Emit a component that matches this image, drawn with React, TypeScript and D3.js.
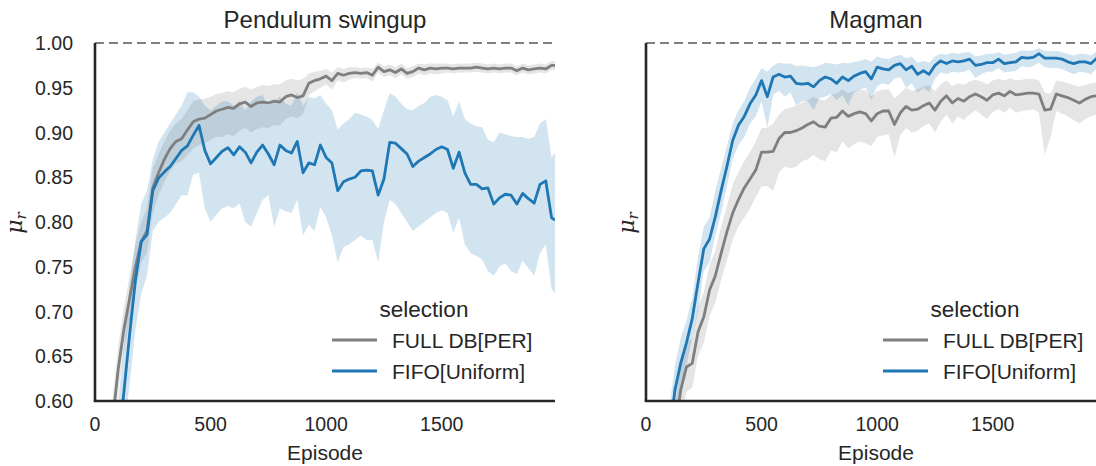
import React from "react";
import * as d3 from "d3";

// ---------- data ----------
const EPISODES = [
  0, 25, 50, 75, 100, 125, 150, 175, 200, 225, 250, 275, 300, 325, 350, 375, 400, 425, 450, 475,
  500, 525, 550, 575, 600, 625, 650, 675, 700, 725, 750, 775, 800, 825, 850, 875, 900, 925, 950, 975,
  1000, 1025, 1050, 1075, 1100, 1125, 1150, 1175, 1200, 1225, 1250, 1275, 1300, 1325, 1350, 1375, 1400, 1425, 1450, 1475,
  1500, 1525, 1550, 1575, 1600, 1625, 1650, 1675, 1700, 1725, 1750, 1775, 1800, 1825, 1850, 1875, 1900, 1925, 1950, 1975,
  1990,
];

// Pendulum swingup — FULL DB[PER]
const PEND_FULL_MEAN = [
  0.45, 0.49, 0.53, 0.575, 0.635, 0.68, 0.715, 0.75, 0.778, 0.79, 0.838, 0.855, 0.87, 0.882, 0.89, 0.893, 0.903, 0.912, 0.915, 0.916,
  0.92, 0.924, 0.926, 0.928, 0.927, 0.932, 0.934, 0.929, 0.933, 0.934, 0.933, 0.935, 0.934, 0.94, 0.942, 0.939, 0.941, 0.955, 0.958, 0.96,
  0.963, 0.958, 0.966, 0.964, 0.966, 0.967, 0.966, 0.967, 0.964, 0.973, 0.968, 0.97, 0.967, 0.971, 0.966, 0.968, 0.972, 0.97, 0.972, 0.971,
  0.972, 0.972, 0.971, 0.972, 0.972, 0.972, 0.973, 0.972, 0.971, 0.972, 0.971, 0.972, 0.972, 0.969, 0.972, 0.97, 0.971, 0.972, 0.971, 0.975,
  0.975,
];
const PEND_FULL_LO = [
  0.42, 0.46, 0.5, 0.55, 0.61, 0.655, 0.69, 0.725, 0.755, 0.765, 0.81, 0.83, 0.845, 0.857, 0.865, 0.868, 0.875, 0.882, 0.886, 0.888,
  0.892, 0.895, 0.895, 0.898, 0.896, 0.902, 0.905, 0.9, 0.904, 0.906, 0.905, 0.908, 0.908, 0.915, 0.918, 0.916, 0.92, 0.942, 0.946, 0.95,
  0.954, 0.948, 0.958, 0.956, 0.959, 0.961, 0.96, 0.961, 0.957, 0.967, 0.962, 0.964, 0.961, 0.965, 0.96, 0.962, 0.966, 0.964, 0.966, 0.965,
  0.966, 0.967, 0.966, 0.967, 0.967, 0.967, 0.968, 0.967, 0.966, 0.967, 0.966, 0.967, 0.967, 0.964, 0.967, 0.965, 0.966, 0.967, 0.966, 0.97,
  0.97,
];
const PEND_FULL_HI = [
  0.48, 0.52, 0.56, 0.6, 0.66, 0.705, 0.74, 0.775, 0.8, 0.815, 0.86, 0.876, 0.89, 0.902, 0.91, 0.915, 0.925, 0.935, 0.937, 0.938,
  0.94, 0.943, 0.944, 0.946, 0.945, 0.949, 0.951, 0.948, 0.951, 0.953, 0.952, 0.954, 0.954, 0.958, 0.96, 0.958, 0.96, 0.966, 0.968, 0.969,
  0.971, 0.967, 0.973, 0.971, 0.973, 0.973, 0.972, 0.973, 0.971, 0.978, 0.974, 0.976, 0.973, 0.977, 0.972, 0.974, 0.977, 0.976, 0.977, 0.977,
  0.977, 0.977, 0.976, 0.977, 0.977, 0.977, 0.978, 0.977, 0.976, 0.977, 0.976, 0.977, 0.977, 0.974, 0.977, 0.975, 0.976, 0.977, 0.976, 0.98,
  0.98,
];

// Pendulum swingup — FIFO[Uniform]
const PEND_FIFO_MEAN = [
  0.38, 0.42, 0.46, 0.5, 0.55, 0.61, 0.675, 0.735, 0.778, 0.786, 0.835, 0.849, 0.856, 0.862, 0.871, 0.88, 0.885, 0.897, 0.908, 0.88,
  0.865, 0.872, 0.879, 0.883, 0.875, 0.884, 0.878, 0.866, 0.878, 0.886, 0.876, 0.864, 0.886, 0.88, 0.877, 0.89, 0.855, 0.866, 0.864, 0.886,
  0.872, 0.866, 0.835, 0.845, 0.848, 0.85, 0.857, 0.858, 0.857, 0.83, 0.848, 0.889, 0.888, 0.882, 0.876, 0.862, 0.868, 0.872, 0.876, 0.881,
  0.884, 0.881, 0.86, 0.878, 0.855, 0.842, 0.842, 0.837, 0.838, 0.82, 0.827, 0.831, 0.83, 0.82, 0.832, 0.826, 0.821, 0.842, 0.846, 0.805,
  0.802,
];
const PEND_FIFO_LO = [
  0.34, 0.37, 0.41, 0.45, 0.5, 0.56, 0.62, 0.68, 0.72, 0.74, 0.79, 0.8, 0.805, 0.81, 0.82, 0.83, 0.83, 0.853, 0.855, 0.815,
  0.8, 0.808, 0.815, 0.818, 0.815, 0.821, 0.8, 0.795, 0.81, 0.825, 0.83, 0.795, 0.815, 0.812, 0.81, 0.825, 0.785, 0.797, 0.79, 0.817,
  0.805, 0.785, 0.755, 0.772, 0.775, 0.78, 0.785, 0.78, 0.78, 0.755, 0.8, 0.825, 0.82, 0.81, 0.8, 0.79, 0.795, 0.8, 0.805, 0.81,
  0.813, 0.81, 0.788, 0.805, 0.775, 0.765, 0.762, 0.758, 0.745, 0.74, 0.75, 0.754, 0.745, 0.742, 0.757, 0.748, 0.74, 0.765, 0.775, 0.725,
  0.72,
];
const PEND_FIFO_HI = [
  0.42, 0.47, 0.51, 0.55, 0.6, 0.66, 0.73, 0.78, 0.82, 0.835, 0.87, 0.89, 0.9, 0.91, 0.92, 0.93, 0.945, 0.945, 0.94, 0.93,
  0.925, 0.93, 0.935, 0.935, 0.93, 0.935, 0.925, 0.935, 0.94, 0.942, 0.93, 0.935, 0.94, 0.932, 0.93, 0.945, 0.93, 0.94, 0.938, 0.942,
  0.932, 0.925, 0.903, 0.91, 0.915, 0.922, 0.92, 0.918, 0.914, 0.904, 0.925, 0.944, 0.94, 0.932, 0.926, 0.925, 0.93, 0.933, 0.94, 0.942,
  0.94, 0.936, 0.918, 0.935, 0.915, 0.91, 0.907, 0.906, 0.892, 0.889, 0.9, 0.898, 0.896, 0.895, 0.895, 0.893, 0.895, 0.91, 0.915, 0.872,
  0.877,
];

// Magman — FULL DB[PER]
const MAG_FULL_MEAN = [
  0.25, 0.31, 0.37, 0.43, 0.5, 0.565, 0.612, 0.638, 0.642, 0.677, 0.694, 0.724, 0.74, 0.765, 0.789, 0.81, 0.825, 0.838, 0.848, 0.858,
  0.878, 0.878, 0.879, 0.893, 0.9, 0.9, 0.902, 0.905, 0.909, 0.912, 0.907, 0.906, 0.916, 0.917, 0.924, 0.918, 0.921, 0.923, 0.921, 0.913,
  0.921, 0.924, 0.924, 0.909, 0.922, 0.929, 0.925, 0.926, 0.93, 0.933, 0.925, 0.935, 0.941, 0.933, 0.938, 0.935, 0.94, 0.943, 0.94, 0.936,
  0.942, 0.944, 0.941, 0.946, 0.942, 0.943, 0.944, 0.944, 0.943, 0.925, 0.926, 0.943, 0.941, 0.939, 0.936, 0.933, 0.937, 0.94, 0.941, 0.941,
  0.94,
];
const MAG_FULL_LO = [
  0.22, 0.28, 0.34, 0.4, 0.47, 0.535, 0.58, 0.61, 0.615, 0.65, 0.665, 0.695, 0.71, 0.735, 0.757, 0.78, 0.795, 0.805, 0.815, 0.828,
  0.84, 0.84, 0.835, 0.855, 0.862, 0.86, 0.862, 0.868, 0.87, 0.875, 0.87, 0.868, 0.88, 0.878, 0.89, 0.882, 0.887, 0.89, 0.888, 0.885,
  0.895, 0.897, 0.898, 0.872, 0.897, 0.905, 0.9, 0.902, 0.907, 0.91, 0.9, 0.912, 0.92, 0.91, 0.918, 0.914, 0.92, 0.925, 0.92, 0.915,
  0.923, 0.926, 0.922, 0.928, 0.922, 0.924, 0.925, 0.926, 0.922, 0.875, 0.895, 0.924, 0.921, 0.918, 0.914, 0.91, 0.915, 0.918, 0.92, 0.92,
  0.919,
];
const MAG_FULL_HI = [
  0.28, 0.34, 0.4, 0.46, 0.53, 0.595, 0.64, 0.665, 0.67, 0.705, 0.722, 0.752, 0.768, 0.795, 0.818, 0.842, 0.856, 0.868, 0.878, 0.89,
  0.905, 0.905, 0.91, 0.92, 0.926, 0.928, 0.93, 0.933, 0.936, 0.94, 0.937, 0.936, 0.942, 0.944, 0.948, 0.944, 0.946, 0.948, 0.947, 0.94,
  0.946, 0.948, 0.948, 0.938, 0.944, 0.95, 0.947, 0.948, 0.951, 0.953, 0.946, 0.954, 0.958, 0.952, 0.955, 0.953, 0.957, 0.959, 0.957, 0.954,
  0.958, 0.96, 0.958, 0.961, 0.958, 0.959, 0.96, 0.96, 0.958, 0.945, 0.943, 0.958, 0.957, 0.955, 0.953, 0.951, 0.953, 0.955, 0.956, 0.956,
  0.955,
];

// Magman — FIFO[Uniform]
const MAG_FIFO_MEAN = [
  0.3, 0.36, 0.42, 0.48, 0.56, 0.612, 0.642, 0.665, 0.692, 0.732, 0.77, 0.781, 0.806, 0.835, 0.862, 0.891, 0.908, 0.918, 0.932, 0.942,
  0.958, 0.94, 0.962, 0.965, 0.962, 0.963, 0.955, 0.954, 0.955, 0.951, 0.958, 0.962, 0.96, 0.955, 0.962, 0.958, 0.963, 0.966, 0.968, 0.96,
  0.973, 0.971, 0.97, 0.975, 0.977, 0.97, 0.974, 0.965, 0.969, 0.965, 0.975, 0.98, 0.977, 0.98, 0.979, 0.98, 0.982, 0.975, 0.976, 0.978,
  0.978, 0.982, 0.977, 0.978, 0.979, 0.984, 0.983, 0.984, 0.988, 0.983, 0.983, 0.983, 0.982, 0.979, 0.977, 0.979, 0.979, 0.977, 0.983, 0.982,
  0.98,
];
const MAG_FIFO_LO = [
  0.27, 0.33, 0.39, 0.45, 0.53, 0.58, 0.615, 0.64, 0.67, 0.7, 0.745, 0.755, 0.785, 0.81, 0.84, 0.87, 0.886, 0.895, 0.91, 0.918,
  0.935, 0.905, 0.942, 0.947, 0.94, 0.945, 0.93, 0.935, 0.935, 0.925, 0.938, 0.94, 0.943, 0.936, 0.942, 0.93, 0.945, 0.948, 0.95, 0.936,
  0.952, 0.955, 0.953, 0.96, 0.962, 0.95, 0.955, 0.944, 0.95, 0.945, 0.96, 0.967, 0.965, 0.968, 0.967, 0.968, 0.97, 0.961, 0.965, 0.968,
  0.968, 0.972, 0.967, 0.968, 0.969, 0.974, 0.973, 0.974, 0.978, 0.973, 0.972, 0.972, 0.971, 0.968, 0.965, 0.968, 0.967, 0.965, 0.972, 0.971,
  0.97,
];
const MAG_FIFO_HI = [
  0.33, 0.39, 0.45, 0.51, 0.59, 0.64, 0.67, 0.69, 0.715, 0.76, 0.795, 0.805, 0.835, 0.86, 0.885, 0.91, 0.925, 0.935, 0.95, 0.96,
  0.972, 0.968, 0.975, 0.978, 0.977, 0.977, 0.974, 0.975, 0.974, 0.973, 0.975, 0.978, 0.977, 0.976, 0.978, 0.977, 0.979, 0.98, 0.982, 0.979,
  0.985, 0.983, 0.982, 0.985, 0.987, 0.983, 0.985, 0.978, 0.98, 0.978, 0.985, 0.988, 0.987, 0.989, 0.988, 0.989, 0.99, 0.985, 0.986, 0.988,
  0.988, 0.99, 0.987, 0.988, 0.989, 0.992, 0.991, 0.992, 0.994, 0.991, 0.991, 0.991, 0.99, 0.988, 0.986, 0.988, 0.988, 0.986, 0.991, 0.99,
  0.99,
];

const X_TICKS = [0, 500, 1000, 1500];
const Y_TICKS = [0.6, 0.65, 0.7, 0.75, 0.8, 0.85, 0.9, 0.95, 1.0];
const TITLES = ["Pendulum swingup", "Magman"];
const SERIES_NAMES = ["FULL DB[PER]", "FIFO[Uniform]"];
const LEGEND_TITLE = "selection";
const X_LABEL = "Episode";

// ---------- style ----------
const GRAY = "#7f7f7f";
const BLUE = "#1f77b4";
const INK = "#262626";
const FONT = "'Liberation Sans', Arial, sans-serif";
const TOP = 43;
const BOTTOM = 401;
const PANEL_W = 460;

type Band = { mean: number[]; lo: number[]; hi: number[]; color: string };

function Panel(props: {
  id: string;
  x0: number;
  title: string;
  series: Band[];
  showY: boolean;
  ylabelX: number;
}) {
  const { id, x0, title, series, showY, ylabelX } = props;
  const x = d3.scaleLinear().domain([0, 1990]).range([x0, x0 + PANEL_W]);
  const y = d3.scaleLinear().domain([0.6, 1.0]).range([BOTTOM, TOP]);
  const line = d3
    .line<number>()
    .x((_, i) => x(EPISODES[i]))
    .y((d) => y(d));
  const areaPath = (lo: number[], hi: number[]) =>
    d3
      .area<number>()
      .x((_, i) => x(EPISODES[i]))
      .y0((_, i) => y(lo[i]))
      .y1((_, i) => y(hi[i]))(lo) || "";
  const cx = x0 + PANEL_W / 2;

  return (
    <g>
      <defs>
        <clipPath id={id}>
          <rect x={x0} y={TOP} width={PANEL_W} height={BOTTOM - TOP} />
        </clipPath>
      </defs>
      <g clipPath={`url(#${id})`}>
        {series.map((s, k) => (
          <path key={"a" + k} d={areaPath(s.lo, s.hi)} fill={s.color} fillOpacity={0.2} stroke="none" />
        ))}
        {series.map((s, k) => (
          <path
            key={"l" + k}
            d={line(s.mean) || ""}
            fill="none"
            stroke={s.color}
            strokeWidth={2.8}
            strokeLinejoin="round"
          />
        ))}
      </g>
      <line
        x1={x0}
        x2={x0 + PANEL_W}
        y1={y(1.0)}
        y2={y(1.0)}
        stroke="#808080"
        strokeWidth={2.2}
        strokeDasharray="9 5"
      />
      {/* spines */}
      <line x1={x0} x2={x0} y1={TOP} y2={BOTTOM} stroke={INK} strokeWidth={2.6} />
      <line x1={x0 - 1.3} x2={x0 + PANEL_W} y1={BOTTOM} y2={BOTTOM} stroke={INK} strokeWidth={2.6} />
      {/* ticks */}
      {showY &&
        Y_TICKS.map((t) => (
          <text
            key={"y" + t}
            x={x0 - 22}
            y={y(t)}
            dy="0.36em"
            textAnchor="end"
            fontSize={19.5}
            fill={INK}
          >
            {d3.format(".2f")(t)}
          </text>
        ))}
      {X_TICKS.map((t) => (
        <text key={"x" + t} x={x(t)} y={431} textAnchor="middle" fontSize={19.5} fill={INK}>
          {t}
        </text>
      ))}
      <text x={cx} y={28} textAnchor="middle" fontSize={24} fill={INK}>
        {title}
      </text>
      <text x={cx} y={460} textAnchor="middle" fontSize={21} fill={INK}>
        {X_LABEL}
      </text>
      <text
        transform={`translate(${ylabelX},223) rotate(-90)`}
        textAnchor="middle"
        fontSize={22}
        fill={INK}
        fontFamily="'DejaVu Serif', 'Liberation Serif', serif"
        fontStyle="italic"
      >
        <tspan>μ</tspan>
        <tspan fontSize={15} dy={4}>r</tspan>
      </text>
      {/* legend */}
      <text x={x0 + 329} y={317} textAnchor="middle" fontSize={22.5} fill={INK}>
        {LEGEND_TITLE}
      </text>
      {series.map((s, k) => (
        <g key={"lg" + k}>
          <line
            x1={x0 + 237}
            x2={x0 + 282}
            y1={340 + k * 31}
            y2={340 + k * 31}
            stroke={s.color}
            strokeWidth={3}
          />
          <text x={x0 + 297} y={348 + k * 31} fontSize={21} fill={INK}>
            {SERIES_NAMES[k]}
          </text>
        </g>
      ))}
    </g>
  );
}

export default function App() {
  const pend: Band[] = [
    { mean: PEND_FULL_MEAN, lo: PEND_FULL_LO, hi: PEND_FULL_HI, color: GRAY },
    { mean: PEND_FIFO_MEAN, lo: PEND_FIFO_LO, hi: PEND_FIFO_HI, color: BLUE },
  ];
  const mag: Band[] = [
    { mean: MAG_FULL_MEAN, lo: MAG_FULL_LO, hi: MAG_FULL_HI, color: GRAY },
    { mean: MAG_FIFO_MEAN, lo: MAG_FIFO_LO, hi: MAG_FIFO_HI, color: BLUE },
  ];
  return (
    <svg
      width={1096}
      height={466}
      style={{ position: "absolute", left: 0, top: 0, background: "#fff" }}
      fontFamily={FONT}
    >
      <rect x={0} y={0} width={1096} height={466} fill="#fff" />
      <Panel id="clipPend" x0={95} title={TITLES[0]} series={pend} showY={true} ylabelX={22} />
      <Panel id="clipMag" x0={646} title={TITLES[1]} series={mag} showY={false} ylabelX={634} />
    </svg>
  );
}
